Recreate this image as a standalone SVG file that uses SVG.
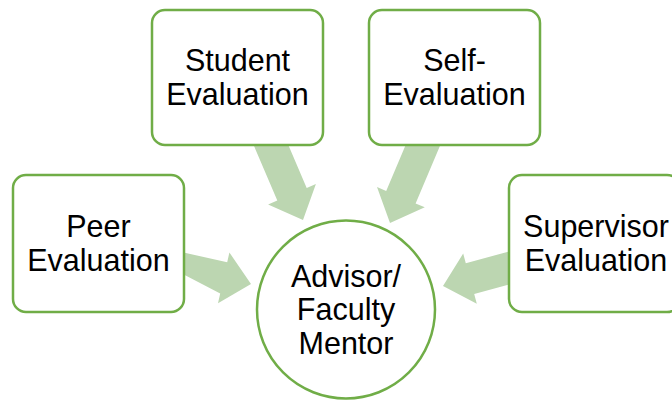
<svg xmlns="http://www.w3.org/2000/svg" width="672" height="400" viewBox="0 0 672 400">
<style>
.box{fill:#ffffff;stroke:#70ad47;stroke-width:2.5}
.arr{fill:#bcd6b1;stroke:none}
.t{font-family:"Liberation Sans",Arial,sans-serif;font-size:30.5px;fill:#000000;text-anchor:middle}
</style>
<rect width="672" height="400" fill="#ffffff"/>
<g id="connectors">
<polygon class="arr" points="164.5,264.6 220.2,293.5 218.0,303.3 251,284 229.4,252.5 227.2,262.3 168.0,249.0"/>
<polygon class="arr" points="250.4,137.5 277.3,200.5 268.1,204.4 303,220 315.9,184.0 306.7,187.9 279.8,124.9"/>
<polygon class="arr" points="414.1,125.0 386.2,191.0 377.0,187.1 390,223 424.8,207.3 415.6,203.4 443.5,137.4"/>
<polygon class="arr" points="519.3,248.7 465.8,263.2 463.2,253.5 443,286 476.8,303.7 474.2,294.0 527.7,279.5"/>
</g>
<g id="peer">
<rect class="box" x="13" y="175" width="171" height="137" rx="13"/>
<text class="t" x="98.5" y="237">Peer</text>
<text class="t" x="98.5" y="270.5">Evaluation</text>
</g>
<g id="student">
<rect class="box" x="152" y="10" width="171" height="135" rx="13"/>
<text class="t" x="237.5" y="71">Student</text>
<text class="t" x="237.5" y="104.5">Evaluation</text>
</g>
<g id="self">
<rect class="box" x="369" y="10" width="171" height="135" rx="13"/>
<text class="t" x="454.5" y="71">Self-</text>
<text class="t" x="454.5" y="104.5">Evaluation</text>
</g>
<g id="supervisor">
<rect class="box" x="509" y="175" width="171" height="137" rx="13"/>
<text class="t" x="596" y="237">Supervisor</text>
<text class="t" x="596" y="270.5">Evaluation</text>
</g>
<g id="mentor">
<circle class="box" cx="346" cy="309.5" r="89"/>
<text class="t" x="346" y="286.5">Advisor/</text>
<text class="t" x="346" y="320">Faculty</text>
<text class="t" x="346" y="353.5">Mentor</text>
</g>
</svg>
